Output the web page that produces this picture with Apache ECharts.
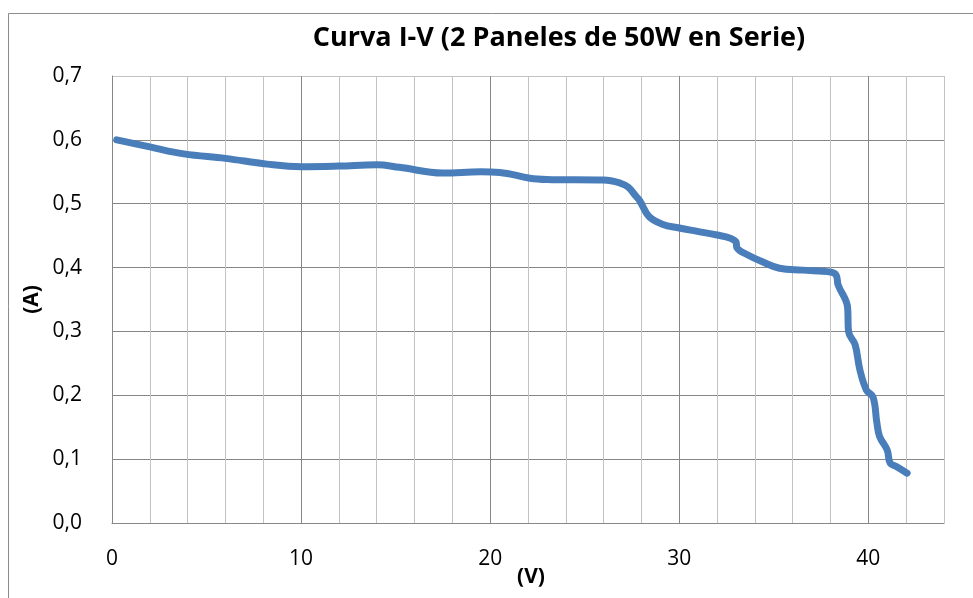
<!DOCTYPE html>
<html>
<head>
<meta charset="utf-8">
<script src="https://cdn.jsdelivr.net/npm/echarts@6/dist/echarts.min.js"></script>
<style>
  html, body { margin: 0; padding: 0; background: #ffffff; }
  #chart { width: 973px; height: 598px; }
</style>
</head>
<body>
<div id="chart"></div>
<script>
// Measured I-V curve of two 50 W panels wired in series
const voltage = [0.25, 2.0, 3.8, 6.0, 8.2, 10.0, 12.0, 14.0, 15.2, 17.5, 19.5, 20.5,
  22.1, 23.0, 26.0, 26.9, 27.3, 27.7, 27.9, 28.4, 29.1, 30.0, 30.9, 32.0, 32.7,
  33.0, 33.05, 33.6, 34.4, 35.3, 36.5, 38.0, 38.3, 38.4, 38.9, 38.95, 39.3, 39.55,
  39.9, 40.25, 40.45, 40.6, 41.0, 41.15, 41.5, 42.05];
const current = [0.600, 0.589, 0.578, 0.571, 0.562, 0.558, 0.559, 0.561, 0.557, 0.548, 0.550, 0.549,
  0.540, 0.538, 0.537, 0.532, 0.526, 0.512, 0.505, 0.480, 0.468, 0.462, 0.457, 0.451, 0.446,
  0.440, 0.431, 0.420, 0.409, 0.399, 0.396, 0.393, 0.388, 0.373, 0.338, 0.300, 0.279, 0.240,
  0.208, 0.197, 0.157, 0.135, 0.114, 0.094, 0.088, 0.078];

const titleText = 'Curva I-V (2 Paneles de 50W en Serie)';
const xName = '(V)';
const yName = '(A)';
const xMajorTicks = [0, 10, 20, 30, 40];

const points = voltage.map((v, i) => [v, current[i]]);

const chart = echarts.init(document.getElementById('chart'), null, { renderer: 'canvas' });
const FONT = 'Open Sans';
const MAJOR = '#878787';
const MINOR = '#c3c3c3';

chart.setOption({
  backgroundColor: '#ffffff',
  animation: false,
  title: {
    text: titleText,
    left: 554,
    top: 20,
    textAlign: 'center',
    textStyle: { fontFamily: FONT, fontWeight: 'bold', fontSize: 27, color: '#000000' }
  },
  graphic: [{
    type: 'rect',
    shape: { x: 8.5, y: 13.5, width: 1000, height: 1000 },
    style: { fill: 'none', stroke: '#8c8c8c', lineWidth: 1 },
    silent: true
  }],
  grid: { left: 112, top: 76, right: 29, bottom: 75, containLabel: false, outerBoundsMode: 'none' },
  xAxis: {
    type: 'value',
    min: 0,
    max: 44,
    interval: 2,
    name: xName,
    nameLocation: 'middle',
    nameGap: 44,
    nameMoveOverlap: false,
    nameTextStyle: { fontFamily: FONT, fontWeight: 'bold', fontSize: 21, color: '#000', padding: [0, 0, 0, 6] },
    axisLine: { show: true, lineStyle: { color: MAJOR, width: 1 } },
    axisTick: { show: false },
    axisLabel: {
      fontFamily: FONT, fontSize: 21, color: '#000', margin: 26,
      formatter: v => (xMajorTicks.indexOf(v) >= 0 ? String(v) : '')
    },
    splitLine: { show: true, lineStyle: { color: [MAJOR, MINOR, MINOR, MINOR, MINOR], width: 1 } }
  },
  yAxis: {
    type: 'value',
    min: 0,
    max: 0.7,
    interval: 0.1,
    name: yName,
    nameLocation: 'middle',
    nameGap: 69,
    nameMoveOverlap: false,
    nameRotate: 90,
    nameTextStyle: { fontFamily: FONT, fontWeight: 'bold', fontSize: 21, color: '#000' },
    axisLine: { show: true, lineStyle: { color: MAJOR, width: 1 } },
    axisTick: { show: false },
    axisLabel: {
      fontFamily: FONT, fontSize: 21, color: '#000', margin: 30,
      formatter: v => v.toFixed(1).replace('.', ',')
    },
    splitLine: { show: true, lineStyle: { color: [MAJOR, MAJOR, MAJOR, MAJOR, MAJOR, MAJOR, MAJOR, MINOR], width: 1 } }
  },
  series: [{
    type: 'line',
    data: points,
    showSymbol: false,
    smooth: 0.4,
    lineStyle: { color: '#4a7ebb', width: 7, cap: 'round', join: 'round' }
  }]
});
</script>
</body>
</html>
